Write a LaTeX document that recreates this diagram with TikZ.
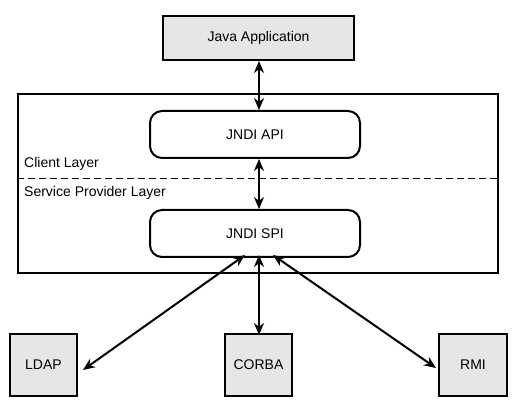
\documentclass[tikz,border=0pt]{standalone}
\usepackage{fontspec}
\setmainfont{Liberation Sans}
\usetikzlibrary{arrows.meta,calc}
\definecolor{boxgray}{HTML}{E6E6E6}
\begin{document}
\begin{tikzpicture}[x=1pt,y=-1pt,
  every node/.style={font=\fontsize{14}{16}\selectfont, inner sep=0pt},
  graybox/.style={draw, line width=2pt, fill=boxgray, minimum width=#1, minimum height=44pt},
  roundbox/.style={draw, line width=2pt, rounded corners=12pt, minimum width=210pt, minimum height=47pt},
  arr/.style={line width=2pt, {Stealth[length=12pt,width=10pt]}-{Stealth[length=12pt,width=10pt]}}
]
\useasboundingbox (0,0) rectangle (517,403);
\node[draw, line width=2pt, minimum width=480pt, minimum height=179pt] (outer) at (258,183.5) {};
\draw[line width=1pt, dash pattern=on 7pt off 4pt] (outer.west |- 0,179) -- (outer.east |- 0,179);
\node[graybox=191pt] (java) at (258.5,38) {Java Application};
\node[roundbox] (api) at (255,134.5) {JNDI API};
\node[roundbox] (spi) at (255,233.5) {JNDI SPI};
\node[anchor=west] (client) at (24,164) {Client Layer};
\node[anchor=west] (spl) at (24,193) {Service Provider Layer};
\node[graybox=67pt, minimum height=62pt] (ldap) at (43.5,365) {LDAP};
\node[graybox=67pt, minimum height=62pt] (corba) at (258.5,365) {CORBA};
\node[graybox=68pt, minimum height=62pt] (rmi) at (473,365) {RMI};
\draw[arr] ([xshift=0.5pt]java.south) -- ([xshift=0.5pt]java.south |- api.north);
\draw[arr] ([xshift=4pt]api.south) -- ([xshift=4pt]spi.north);
\draw[arr] ([xshift=-10pt,yshift=3pt]spi.south) -- ([xshift=5pt,yshift=-5pt]ldap.east);
\draw[arr] ([xshift=4pt,yshift=3pt]spi.south) -- ([xshift=0.5pt,yshift=-2pt]corba.north);
\draw[arr] ([xshift=18pt,yshift=3pt]spi.south) -- ([xshift=-2pt,yshift=-3pt]rmi.west);
\end{tikzpicture}
\end{document}
